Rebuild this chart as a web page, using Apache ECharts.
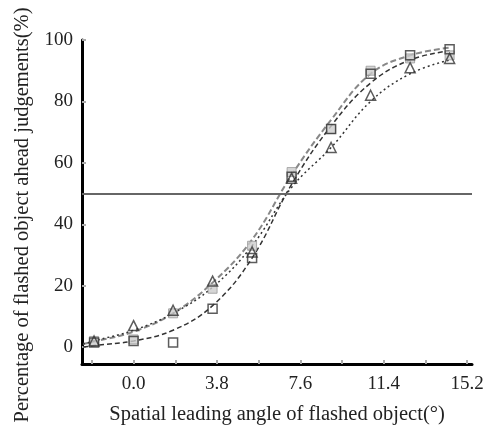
<!DOCTYPE html>
<html>
<head>
<meta charset="utf-8">
<script src="https://cdn.jsdelivr.net/npm/echarts@6/dist/echarts.min.js"></script>
<style>html,body{margin:0;padding:0;background:#fff}#c{width:497px;height:434px}</style>
</head>
<body>
<div id="c"></div>
<script>
// ---- data ----
const pointX = [-1.8, 0, 1.8, 3.6, 5.4, 7.2, 9.0, 10.8, 12.6, 14.4];
const triangleVals = [2, 7, 12, 21.5, 31, 55, 65, 82, 91, 94];
const graySquareVals = [2, 2.5, 11, 19, 33, 57, 71, 90, 94, 95];
const darkSquareVals = [1.5, 2, 1.5, 12.5, 29, 55.5, 71, 89, 95, 97];

const curveX = [-2.3, -1.8, 0, 1.8, 3.6, 5.4, 7.2, 9.0, 10.8, 12.6, 14.4];
const triangleCurve = [1, 2, 5.5, 11, 19.5, 33, 52, 65, 80, 89, 93.5];
const graySquareCurve = [1, 1.8, 5, 11, 21, 35, 56, 74, 89, 95, 97.5];
const darkSquareCurve = [0, 0.5, 2, 5.5, 13.5, 29, 53, 72, 86, 93.5, 96.5];

const xTickValues = [-1.9, 0, 1.9, 3.8, 5.7, 7.6, 9.5, 11.4, 13.3, 15.2];
const xLabelValues = [0, 3.8, 7.6, 11.4, 15.2];
const yTickValues = [0, 20, 40, 60, 80, 100];
const refLevel = 50;

const xName = 'Spatial leading angle of flashed object(°)';
const yName = 'Percentage of flashed object ahead judgements(%)';

const zip = (xs, ys) => xs.map((x, i) => [x, ys[i]]);
const font = 'Liberation Serif, Times New Roman, serif';

const chart = echarts.init(document.getElementById('c'), null, {renderer: 'canvas'});
chart.setOption({
  animation: false,
  backgroundColor: '#fff',
  grid: {left: 82, right: 25, top: 40, bottom: 70, containLabel: false},
  xAxis: {
    type: 'value', min: -2.35, max: 15.42,
    name: xName, nameLocation: 'middle', nameGap: 40,
    nameTextStyle: {fontFamily: font, fontSize: 20.5, color: '#222'},
    axisLine: {show: true, onZero: false, lineStyle: {color: '#000', width: 3}},
    axisTick: {show: true, inside: true, length: 4, customValues: xTickValues, lineStyle: {color: '#aaa', width: 2}},
    axisLabel: {customValues: xLabelValues, formatter: v => v.toFixed(1), fontFamily: font, fontSize: 19, color: '#222', margin: 11},
    splitLine: {show: false}
  },
  yAxis: {
    type: 'value', min: -5.5, max: 100,
    name: yName, nameLocation: 'middle', nameGap: 47, nameRotate: 90,
    nameTextStyle: {fontFamily: font, fontSize: 20.5, color: '#222', padding: [0, 26, 0, 0]},
    axisLine: {show: true, onZero: false, lineStyle: {color: '#000', width: 3}},
    axisTick: {show: true, inside: true, length: 4, customValues: yTickValues, lineStyle: {color: '#aaa', width: 2}},
    axisLabel: {customValues: yTickValues, fontFamily: font, fontSize: 19, color: '#222', margin: 9},
    splitLine: {show: false}
  },
  series: [
    {type: 'line', data: zip(curveX, graySquareCurve), smooth: 0.4, symbol: 'none',
     lineStyle: {color: '#888', width: 2, type: [6, 3]}, z: 2,
     markLine: {silent: true, symbol: 'none', label: {show: false},
       lineStyle: {color: '#666', width: 2, type: 'solid'}, data: [{yAxis: refLevel}]}},
    {type: 'line', data: zip(curveX, darkSquareCurve), smooth: 0.4, symbol: 'none',
     lineStyle: {color: '#333', width: 1.5, type: [5, 3]}, z: 2},
    {type: 'line', data: zip(curveX, triangleCurve), smooth: 0.4, symbol: 'none',
     lineStyle: {color: '#333', width: 1.5, type: [2, 3]}, z: 2},
    {type: 'scatter', data: zip(pointX, graySquareVals), symbol: 'rect', symbolSize: 9,
     itemStyle: {color: '#ccc', borderColor: '#999', borderWidth: 1}, z: 3},
    {type: 'scatter', data: zip(pointX, darkSquareVals), symbol: 'rect', symbolSize: 9,
     itemStyle: {color: 'rgba(255,255,255,0)', borderColor: '#333', borderWidth: 1.5}, z: 4},
    {type: 'scatter', data: zip(pointX, triangleVals), symbol: 'triangle', symbolSize: 10,
     itemStyle: {color: 'rgba(255,255,255,0)', borderColor: '#333', borderWidth: 1.5}, z: 5}
  ]
});
</script>
</body>
</html>
